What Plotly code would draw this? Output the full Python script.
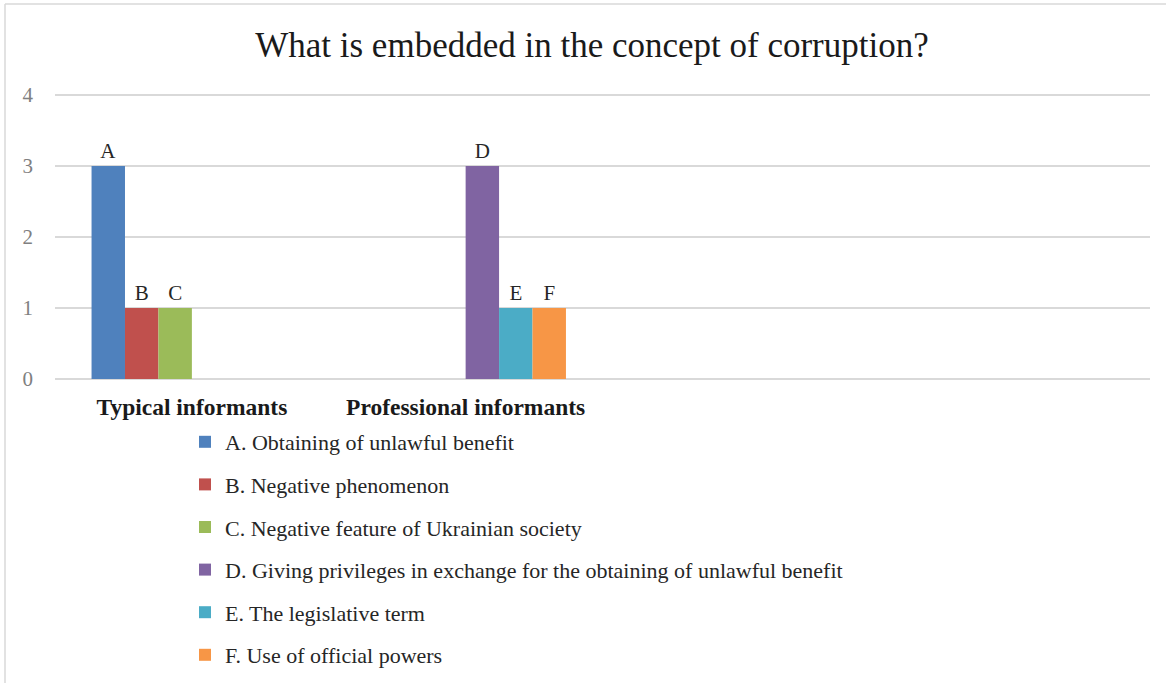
import plotly.graph_objects as go

# Survey responses: what respondents include in the concept of corruption
group_labels = ["Typical informants", "Professional informants"]
group_positions = [0, 1]

series_names = [
    "A. Obtaining of unlawful benefit",
    "B. Negative phenomenon",
    "C. Negative feature of Ukrainian society",
    "D. Giving privileges in exchange for the obtaining of unlawful benefit",
    "E. The legislative term",
    "F. Use of official powers",
]
series_letters = ["A", "B", "C", "D", "E", "F"]
series_values = [
    [3, None],
    [1, None],
    [1, None],
    [None, 3],
    [None, 1],
    [None, 1],
]
series_colors = ["#4f81bd", "#c0504d", "#9bbb59", "#8064a2", "#4bacc6", "#f79646"]

SERIF = "Liberation Serif"

fig = go.Figure()
for name, letter, vals, color in zip(series_names, series_letters, series_values, series_colors):
    fig.add_trace(go.Bar(
        name=name,
        x=group_positions,
        y=vals,
        marker=dict(color=color, line=dict(width=0)),
        text=[letter if v else "" for v in vals],
        textposition="outside",
        textfont=dict(family=SERIF, size=21, color="#262626"),
        cliponaxis=False,
        legendgroup=letter,
    ))

W, H = 1169, 683
ml, mr, mt, mb = 55, 19, 93, 304
pw, ph = W - ml - mr, H - mt - mb


def px_x(x):
    return (x - ml) / pw


def px_y(y):
    return (H - mb - y) / ph


fig.update_layout(
    width=W,
    height=H,
    margin=dict(l=ml, r=mr, t=mt, b=mb, autoexpand=False),
    paper_bgcolor="white",
    plot_bgcolor="white",
    barmode="group",
    bargap=0.267,
    bargroupgap=0,
    title=dict(
        text="What is embedded in the concept of corruption?",
        font=dict(family=SERIF, size=35, color="#1a1a1a"),
        x=592 / W,
        xanchor="center",
        y=1 - 45 / H,
        yanchor="middle",
    ),
    xaxis=dict(
        range=[-0.5, 3.5],
        tickvals=group_positions,
        ticktext=group_labels,
        tickfont=dict(family=SERIF, size=23.5, color="#1a1a1a", weight="bold"),
        showgrid=False,
        showline=False,
        ticks="",
        ticklabelstandoff=11,
        zeroline=False,
    ),
    yaxis=dict(
        range=[0, 4.03],
        tickvals=[0, 1, 2, 3, 4],
        tickfont=dict(family=SERIF, size=21, color="#808080"),
        showgrid=True,
        gridcolor="#d9d9d9",
        gridwidth=1.5,
        zeroline=True,
        zerolinecolor="#d9d9d9",
        zerolinewidth=1.5,
        showline=False,
        ticks="",
        ticklabelstandoff=21,
    ),
    showlegend=True,
    legend=dict(
        orientation="v",
        x=px_x(185),
        xanchor="left",
        y=px_y(421),
        yanchor="top",
        traceorder="grouped",
        tracegroupgap=11,
        font=dict(family=SERIF, size=22, color="#262626"),
        itemwidth=30,
        bgcolor="rgba(0,0,0,0)",
    ),
    shapes=[
        dict(type="line", xref="paper", yref="paper",
             x0=px_x(5), x1=px_x(5), y0=px_y(4), y1=px_y(H + 5),
             line=dict(color="#d9d9d9", width=1.5)),
        dict(type="line", xref="paper", yref="paper",
             x0=px_x(5), x1=px_x(1166), y0=px_y(4), y1=px_y(4),
             line=dict(color="#d9d9d9", width=1.5)),
    ],
)

fig.write_html("out.html")
